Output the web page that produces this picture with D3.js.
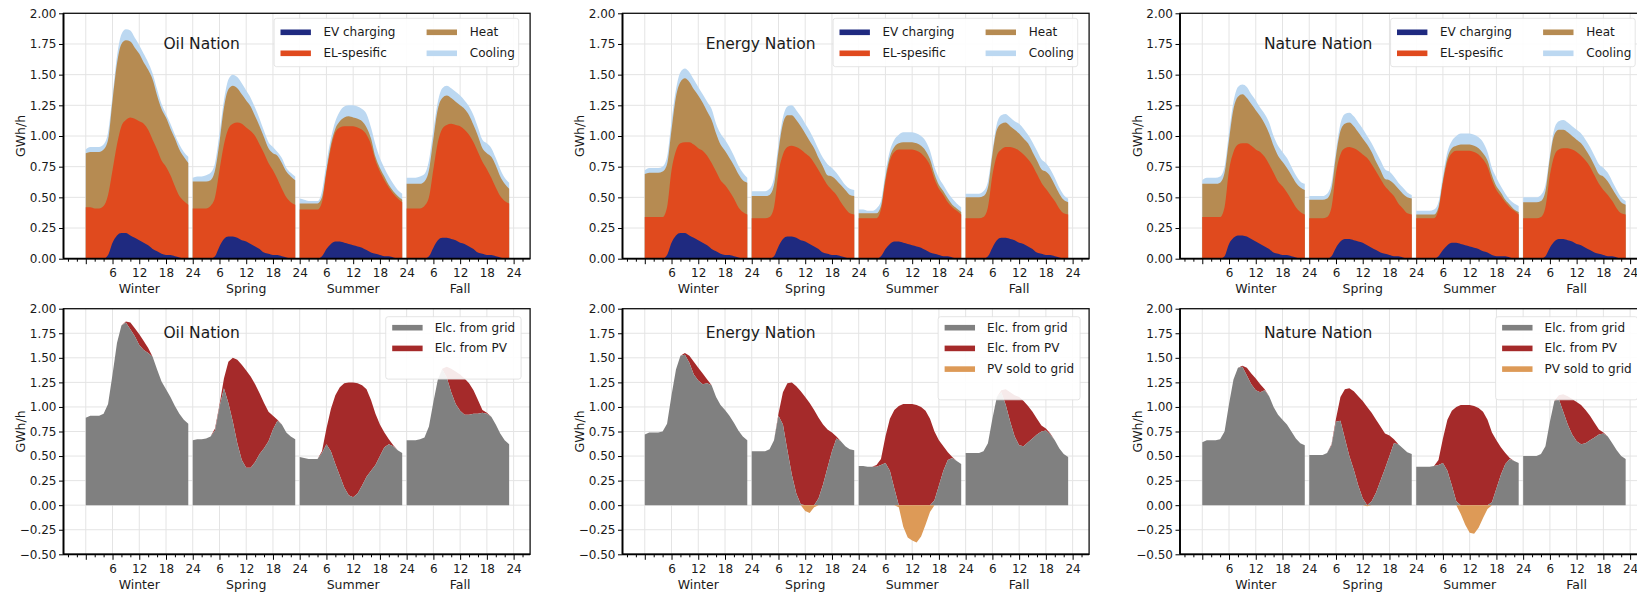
<!DOCTYPE html>
<html><head><meta charset="utf-8">
<script src="https://cdn.jsdelivr.net/npm/d3@7"></script>
<style>
body{margin:0;background:#fff;}
svg{display:block;font-family:"DejaVu Sans",sans-serif;}
</style></head><body>
<svg id="chart" width="1637" height="595"></svg>
<script>
const nations = ["Oil Nation", "Energy Nation", "Nature Nation"];
const seasons = ["Winter", "Spring", "Summer", "Fall"];
const hours = [0,1,2,3,4,5,6,7,8,9,10,11,12,13,14,15,16,17,18,19,20,21,22,23];
const xTickLabels = ["6", "12", "18", "24"];
const yTicksTop = [0, 0.25, 0.5, 0.75, 1, 1.25, 1.5, 1.75, 2];
const yTicksBottom = [-0.5, -0.25, 0, 0.25, 0.5, 0.75, 1, 1.25, 1.5, 1.75, 2];
const topSeries = ["EV charging", "EL-spesific", "Heat", "Cooling"];
const bottomSeriesOil = ["Elc. from grid", "Elc. from PV"];
const bottomSeriesPV = ["Elc. from grid", "Elc. from PV", "PV sold to grid"];

// ---- Oil Nation (GWh/h), one row per season: Winter, Spring, Summer, Fall ----
const oilEV = [
 [0,0,0,0,0,0.03,0.13,0.19,0.21,0.21,0.19,0.17,0.15,0.13,0.11,0.08,0.06,0.04,0.03,0.03,0.02,0.01,0,0],
 [0,0,0,0,0,0.02,0.10,0.16,0.18,0.18,0.17,0.15,0.14,0.12,0.10,0.08,0.05,0.04,0.03,0.03,0.02,0.01,0,0],
 [0,0,0,0,0,0.02,0.08,0.12,0.14,0.14,0.13,0.12,0.11,0.10,0.09,0.07,0.05,0.04,0.03,0.02,0.02,0.01,0,0],
 [0,0,0,0,0,0.02,0.09,0.15,0.17,0.17,0.16,0.15,0.13,0.12,0.10,0.08,0.05,0.04,0.03,0.03,0.02,0.01,0,0]
];
const oilEL = [
 [0.42,0.42,0.41,0.41,0.43,0.49,0.59,0.74,0.87,0.92,0.96,0.97,0.97,0.97,0.94,0.89,0.83,0.76,0.72,0.65,0.57,0.50,0.47,0.44],
 [0.41,0.41,0.41,0.41,0.43,0.48,0.62,0.77,0.88,0.92,0.94,0.95,0.93,0.92,0.90,0.85,0.81,0.74,0.69,0.62,0.55,0.49,0.46,0.44],
 [0.40,0.40,0.40,0.40,0.40,0.44,0.62,0.78,0.89,0.93,0.95,0.96,0.97,0.97,0.96,0.94,0.88,0.76,0.68,0.62,0.56,0.52,0.49,0.46],
 [0.41,0.41,0.41,0.41,0.43,0.48,0.64,0.80,0.89,0.92,0.94,0.94,0.95,0.93,0.91,0.87,0.82,0.75,0.70,0.63,0.56,0.50,0.47,0.45]
];
const oilHeat = [
 [0.44,0.45,0.46,0.46,0.46,0.45,0.57,0.66,0.67,0.65,0.62,0.58,0.55,0.50,0.49,0.49,0.44,0.42,0.40,0.38,0.39,0.38,0.36,0.34],
 [0.22,0.22,0.22,0.22,0.21,0.22,0.23,0.30,0.32,0.31,0.28,0.24,0.22,0.20,0.16,0.15,0.13,0.12,0.14,0.19,0.21,0.21,0.21,0.20],
 [0.05,0.05,0.05,0.05,0.05,0.04,0.02,0.03,0.03,0.05,0.07,0.08,0.07,0.07,0.07,0.06,0.05,0.03,0.03,0.03,0.02,0.02,0.02,0.02],
 [0.20,0.20,0.20,0.20,0.20,0.22,0.25,0.27,0.25,0.24,0.21,0.19,0.17,0.17,0.16,0.14,0.13,0.11,0.13,0.17,0.18,0.16,0.14,0.12]
];
const oilCool = [
 [0.03,0.04,0.04,0.04,0.04,0.06,0.04,0.06,0.08,0.09,0.09,0.08,0.07,0.07,0.06,0.05,0.05,0.04,0.03,0.04,0.03,0.04,0.04,0.05],
 [0.03,0.04,0.04,0.05,0.06,0.06,0.07,0.06,0.08,0.09,0.09,0.09,0.08,0.07,0.07,0.06,0.05,0.05,0.05,0.03,0.04,0.03,0.03,0.03],
 [0.04,0.03,0.02,0.02,0.02,0.05,0.06,0.05,0.06,0.08,0.09,0.09,0.10,0.10,0.10,0.11,0.09,0.10,0.08,0.07,0.07,0.06,0.05,0.05],
 [0.05,0.05,0.05,0.06,0.06,0.08,0.07,0.06,0.08,0.08,0.08,0.08,0.08,0.07,0.07,0.08,0.07,0.07,0.08,0.07,0.06,0.06,0.05,0.05]
];
const oilGrid = [
 [0.89,0.91,0.91,0.91,0.93,1.03,1.33,1.65,1.83,1.86,1.79,1.72,1.63,1.58,1.55,1.51,1.38,1.26,1.18,1.10,1.01,0.93,0.87,0.83],
 [0.66,0.67,0.67,0.68,0.70,0.76,1.00,1.19,1.04,0.85,0.63,0.46,0.38,0.38,0.44,0.52,0.58,0.65,0.77,0.86,0.82,0.74,0.70,0.67],
 [0.49,0.48,0.47,0.47,0.47,0.53,0.62,0.55,0.42,0.30,0.18,0.10,0.08,0.12,0.20,0.29,0.35,0.41,0.50,0.59,0.62,0.60,0.56,0.53],
 [0.66,0.66,0.66,0.67,0.69,0.80,1.05,1.28,1.38,1.30,1.15,1.03,0.96,0.92,0.92,0.93,0.93,0.94,0.93,0.90,0.82,0.73,0.66,0.62]
];

// ---- Energy Nation ----
const energyEV = [
 [0,0,0,0,0,0.03,0.13,0.19,0.21,0.21,0.19,0.17,0.15,0.13,0.11,0.08,0.06,0.04,0.03,0.03,0.02,0.01,0,0],
 [0,0,0,0,0,0.02,0.10,0.16,0.18,0.18,0.17,0.15,0.14,0.12,0.10,0.08,0.05,0.04,0.03,0.03,0.02,0.01,0,0],
 [0,0,0,0,0,0.02,0.08,0.12,0.14,0.14,0.13,0.12,0.11,0.10,0.09,0.07,0.05,0.04,0.03,0.02,0.02,0.01,0,0],
 [0,0,0,0,0,0.02,0.09,0.15,0.17,0.17,0.16,0.15,0.13,0.12,0.10,0.08,0.05,0.04,0.03,0.03,0.02,0.01,0,0]
];
const energyEL = [
 [0.34,0.34,0.34,0.34,0.34,0.39,0.59,0.69,0.73,0.74,0.76,0.76,0.75,0.75,0.73,0.70,0.65,0.60,0.57,0.52,0.47,0.41,0.38,0.36],
 [0.33,0.33,0.33,0.33,0.34,0.40,0.60,0.69,0.73,0.74,0.74,0.74,0.72,0.71,0.68,0.64,0.61,0.56,0.53,0.49,0.44,0.40,0.37,0.36],
 [0.33,0.33,0.33,0.33,0.33,0.38,0.55,0.68,0.73,0.75,0.76,0.77,0.78,0.78,0.77,0.75,0.71,0.61,0.54,0.50,0.44,0.41,0.39,0.36],
 [0.33,0.33,0.33,0.33,0.34,0.40,0.59,0.69,0.72,0.74,0.75,0.75,0.75,0.73,0.71,0.68,0.64,0.58,0.54,0.49,0.45,0.40,0.37,0.36]
];
const energyHeat = [
 [0.35,0.36,0.36,0.36,0.37,0.35,0.33,0.44,0.50,0.52,0.49,0.45,0.43,0.39,0.36,0.35,0.31,0.29,0.28,0.27,0.27,0.27,0.26,0.26],
 [0.18,0.18,0.18,0.18,0.18,0.18,0.18,0.25,0.26,0.25,0.22,0.19,0.16,0.13,0.12,0.10,0.09,0.08,0.11,0.12,0.14,0.15,0.15,0.15],
 [0.04,0.04,0.04,0.04,0.04,0.03,0.03,0.03,0.04,0.05,0.06,0.06,0.06,0.06,0.06,0.06,0.05,0.04,0.03,0.03,0.03,0.02,0.02,0.02],
 [0.17,0.17,0.17,0.17,0.17,0.16,0.17,0.21,0.21,0.20,0.17,0.15,0.14,0.13,0.13,0.11,0.11,0.11,0.14,0.15,0.13,0.12,0.11,0.10]
];
const energyCool = [
 [0.03,0.04,0.04,0.04,0.04,0.06,0.07,0.06,0.08,0.08,0.08,0.08,0.07,0.07,0.08,0.09,0.08,0.09,0.09,0.09,0.08,0.07,0.06,0.04],
 [0.04,0.04,0.04,0.04,0.05,0.06,0.05,0.05,0.07,0.08,0.08,0.08,0.08,0.08,0.07,0.07,0.07,0.09,0.07,0.06,0.05,0.04,0.05,0.05],
 [0.03,0.03,0.02,0.02,0.04,0.04,0.04,0.05,0.06,0.07,0.08,0.08,0.08,0.08,0.08,0.08,0.07,0.06,0.06,0.05,0.05,0.05,0.04,0.04],
 [0.03,0.03,0.03,0.03,0.04,0.05,0.03,0.05,0.07,0.07,0.07,0.07,0.08,0.08,0.07,0.08,0.08,0.08,0.07,0.06,0.06,0.05,0.04,0.03]
];
const energyGrid = [
 [0.72,0.74,0.74,0.74,0.75,0.83,1.12,1.38,1.52,1.53,1.45,1.33,1.27,1.23,1.24,1.22,1.10,1.02,0.97,0.91,0.84,0.76,0.70,0.66],
 [0.55,0.55,0.55,0.55,0.57,0.66,0.91,0.82,0.56,0.31,0.12,0.01,-0.06,-0.08,-0.02,0.07,0.21,0.38,0.55,0.68,0.65,0.60,0.57,0.56],
 [0.40,0.40,0.39,0.39,0.39,0.41,0.43,0.35,0.17,-0.02,-0.22,-0.33,-0.36,-0.38,-0.32,-0.20,-0.07,0.05,0.20,0.35,0.46,0.48,0.45,0.42],
 [0.53,0.53,0.53,0.53,0.55,0.63,0.88,1.10,1.15,1.02,0.85,0.70,0.61,0.60,0.64,0.68,0.72,0.75,0.76,0.72,0.66,0.58,0.52,0.49]
];

// ---- Nature Nation ----
const natureEV = [
 [0,0,0,0,0,0.02,0.12,0.17,0.19,0.19,0.18,0.16,0.14,0.12,0.10,0.08,0.05,0.04,0.03,0.03,0.02,0.01,0,0],
 [0,0,0,0,0,0.02,0.09,0.14,0.16,0.16,0.15,0.14,0.13,0.11,0.09,0.07,0.05,0.04,0.03,0.02,0.02,0.01,0,0],
 [0,0,0,0,0,0.02,0.07,0.11,0.13,0.13,0.12,0.11,0.10,0.09,0.08,0.06,0.05,0.03,0.02,0.02,0.02,0.01,0,0],
 [0,0,0,0,0,0.02,0.09,0.14,0.16,0.16,0.15,0.14,0.12,0.11,0.09,0.07,0.05,0.04,0.03,0.02,0.02,0.01,0,0]
];
const natureEL = [
 [0.34,0.34,0.34,0.34,0.34,0.40,0.60,0.70,0.74,0.75,0.76,0.76,0.75,0.75,0.73,0.69,0.65,0.59,0.56,0.51,0.46,0.41,0.38,0.36],
 [0.33,0.33,0.33,0.33,0.34,0.40,0.61,0.71,0.74,0.75,0.75,0.74,0.72,0.71,0.68,0.64,0.60,0.55,0.52,0.49,0.43,0.40,0.37,0.36],
 [0.33,0.33,0.33,0.33,0.33,0.38,0.55,0.68,0.73,0.75,0.76,0.77,0.78,0.78,0.77,0.75,0.70,0.61,0.54,0.49,0.44,0.41,0.39,0.36],
 [0.33,0.33,0.33,0.33,0.34,0.40,0.59,0.70,0.73,0.74,0.75,0.75,0.75,0.73,0.71,0.68,0.63,0.57,0.53,0.50,0.45,0.40,0.37,0.36]
];
const natureHeat = [
 [0.27,0.27,0.27,0.27,0.28,0.28,0.25,0.35,0.39,0.40,0.37,0.34,0.32,0.29,0.27,0.25,0.22,0.21,0.20,0.20,0.20,0.20,0.20,0.20],
 [0.15,0.15,0.15,0.15,0.15,0.15,0.14,0.19,0.20,0.20,0.18,0.15,0.13,0.11,0.10,0.08,0.07,0.06,0.09,0.10,0.12,0.12,0.13,0.13],
 [0.03,0.03,0.03,0.03,0.03,0.02,0.02,0.03,0.04,0.04,0.05,0.05,0.05,0.05,0.05,0.05,0.05,0.04,0.03,0.03,0.02,0.02,0.01,0.02],
 [0.13,0.13,0.13,0.13,0.13,0.13,0.14,0.17,0.16,0.15,0.13,0.11,0.10,0.10,0.09,0.08,0.08,0.08,0.11,0.11,0.10,0.10,0.09,0.08]
];
const natureCool = [
 [0.03,0.05,0.05,0.05,0.05,0.05,0.06,0.06,0.08,0.08,0.09,0.08,0.08,0.07,0.08,0.09,0.08,0.08,0.08,0.08,0.07,0.06,0.05,0.05],
 [0.03,0.03,0.03,0.03,0.04,0.05,0.04,0.06,0.08,0.08,0.08,0.08,0.08,0.07,0.07,0.08,0.08,0.08,0.07,0.06,0.05,0.05,0.04,0.03],
 [0.03,0.03,0.03,0.03,0.04,0.04,0.04,0.05,0.06,0.08,0.09,0.09,0.09,0.09,0.09,0.09,0.07,0.06,0.07,0.05,0.05,0.04,0.05,0.05],
 [0.04,0.04,0.04,0.04,0.05,0.05,0.03,0.05,0.07,0.08,0.08,0.08,0.08,0.08,0.08,0.08,0.08,0.08,0.07,0.07,0.06,0.05,0.04,0.03]
];
const natureGrid = [
 [0.64,0.66,0.66,0.66,0.67,0.75,1.03,1.28,1.40,1.41,1.32,1.23,1.17,1.15,1.17,1.11,1.00,0.92,0.87,0.82,0.75,0.68,0.63,0.61],
 [0.51,0.51,0.51,0.51,0.53,0.61,0.85,0.86,0.68,0.50,0.36,0.20,0.07,-0.01,0.04,0.13,0.25,0.37,0.50,0.63,0.62,0.58,0.54,0.52],
 [0.39,0.39,0.39,0.39,0.40,0.41,0.43,0.35,0.20,0.04,-0.09,-0.20,-0.28,-0.29,-0.23,-0.13,-0.04,0.03,0.17,0.31,0.42,0.47,0.45,0.43],
 [0.50,0.50,0.50,0.50,0.52,0.60,0.85,1.06,1.08,0.95,0.82,0.72,0.65,0.62,0.63,0.66,0.69,0.72,0.73,0.70,0.63,0.56,0.50,0.47]
];

const nationData = [
  {ev: oilEV, el: oilEL, heat: oilHeat, cool: oilCool, grid: oilGrid, legend: bottomSeriesOil},
  {ev: energyEV, el: energyEL, heat: energyHeat, cool: energyCool, grid: energyGrid, legend: bottomSeriesPV},
  {ev: natureEV, el: natureEL, heat: natureHeat, cool: natureCool, grid: natureGrid, legend: bottomSeriesPV}
];

// ---- styling / layout ----
const topColors = ["#1f2a80", "#e04a1e", "#b68b52", "#bcd8f1"];
const botColors = ["#808080", "#a52a2a", "#dd9a57"];
const colLeft = [63.5, 622.5, 1180];
const plotW = 466.6;
const rowsCfg = [
  {top: 13.3, bottom: 258.7, dom: [0, 2], ticks: yTicksTop},
  {top: 308.7, bottom: 554.3, dom: [-0.5, 2], ticks: yTicksBottom}
];
const gridColor = "#e4e4e4";
const textColor = "#1a1a1a";

const svg = d3.select("#chart");
const majorX = d3.range(0, 97, 6);
const minorX = d3.range(-4, 99, 2).filter(v => v % 6 !== 0);

nations.forEach((name, c) => {
  const left = colLeft[c], right = left + plotW;
  const x = d3.scaleLinear().domain([-5, 99.7]).range([left, right]);
  const nd = nationData[c];

  rowsCfg.forEach((rc, r) => {
    const y = d3.scaleLinear().domain(rc.dom).range([rc.bottom, rc.top]);
    const g = svg.append("g");

    // grid
    g.selectAll("line.hg").data(rc.ticks).join("line").attr("class", "hg")
      .attr("x1", left).attr("x2", right).attr("y1", d => y(d)).attr("y2", d => y(d))
      .attr("stroke", gridColor).attr("stroke-width", 1);
    g.selectAll("line.vg").data(majorX).join("line").attr("class", "vg")
      .attr("x1", d => x(d)).attr("x2", d => x(d)).attr("y1", rc.top).attr("y2", rc.bottom)
      .attr("stroke", gridColor).attr("stroke-width", 1);

    const areaG = g.append("g");
    seasons.forEach((sn, s) => {
      const xs = h => x(24 * s + h);
      if (r === 0) {
        const rows = hours.map(h => ({h, ev: nd.ev[s][h], el: nd.el[s][h], heat: nd.heat[s][h], cool: nd.cool[s][h]}));
        const stacked = d3.stack().keys(["ev", "el", "heat", "cool"])(rows);
        const area = d3.area().x(d => xs(d.data.h)).y0(y(0)).y1(d => y(d[1])).curve(d3.curveMonotoneX);
        for (let i = stacked.length - 1; i >= 0; i--) {
          areaG.append("path").attr("d", area(stacked[i])).attr("fill", topColors[i]);
        }
      } else {
        const rows = hours.map(h => ({
          h,
          total: nd.ev[s][h] + nd.el[s][h] + nd.heat[s][h] + nd.cool[s][h],
          grid: nd.grid[s][h]
        }));
        const red = d3.area().x(d => xs(d.h)).y0(d => y(Math.max(d.grid, 0))).y1(d => y(d.total));
        const gray = d3.area().x(d => xs(d.h)).y0(y(0)).y1(d => y(Math.max(d.grid, 0)));
        const orange = d3.area().x(d => xs(d.h)).y0(d => y(Math.min(d.grid, 0))).y1(y(0));
        areaG.append("path").attr("d", red(rows)).attr("fill", botColors[1]);
        areaG.append("path").attr("d", gray(rows)).attr("fill", botColors[0]);
        if (rows.some(d => d.grid < 0)) areaG.append("path").attr("d", orange(rows)).attr("fill", botColors[2]);
      }
    });

    // y axis
    const ya = g.append("g").attr("transform", `translate(${left},0)`)
      .call(d3.axisLeft(y).tickValues(rc.ticks).tickFormat(d3.format(".2f")).tickSize(4.5).tickPadding(2.5));
    ya.select(".domain").remove();
    ya.attr("font-family", "DejaVu Sans").attr("font-size", 12);
    ya.selectAll("text").attr("fill", textColor);
    ya.selectAll("line").attr("stroke", "#000");

    // x axis major + minor
    const xa = g.append("g").attr("transform", `translate(0,${rc.bottom})`)
      .call(d3.axisBottom(x).tickValues(majorX)
        .tickFormat(d => d === 0 ? "" : xTickLabels[(d / 6 - 1) % 4])
        .tickSize(5.5).tickPadding(4.5));
    xa.select(".domain").remove();
    xa.attr("font-family", "DejaVu Sans").attr("font-size", 12);
    xa.selectAll("text").attr("fill", textColor);
    xa.selectAll("line").attr("stroke", "#000");
    const xm = g.append("g").attr("transform", `translate(0,${rc.bottom})`)
      .call(d3.axisBottom(x).tickValues(minorX).tickFormat("").tickSize(3));
    xm.select(".domain").remove();
    xm.selectAll("line").attr("stroke", "#000");

    // season labels
    g.selectAll("text.season").data(seasons).join("text").attr("class", "season")
      .attr("x", (d, i) => x(24 * i + 12)).attr("y", rc.bottom + 34.5)
      .attr("text-anchor", "middle").attr("font-size", 12.5).attr("fill", textColor)
      .text(d => d);

    // spines
    g.append("rect").attr("x", left).attr("y", rc.top).attr("width", plotW).attr("height", rc.bottom - rc.top)
      .attr("fill", "none").attr("stroke", "#111").attr("stroke-width", 1.3);
    g.append("line").attr("x1", left).attr("x2", left).attr("y1", rc.top).attr("y2", rc.bottom)
      .attr("stroke", "#000").attr("stroke-width", 1.8);
    g.append("line").attr("x1", left).attr("x2", right).attr("y1", rc.bottom).attr("y2", rc.bottom)
      .attr("stroke", "#000").attr("stroke-width", 1.8);

    // y label
    g.append("text").attr("transform", `translate(${left - 43},${(rc.top + rc.bottom) / 2}) rotate(-90)`)
      .attr("text-anchor", "middle").attr("dominant-baseline", "central")
      .attr("font-size", 12.5).attr("fill", textColor).text("GWh/h");

    // title
    g.append("text").attr("x", x(26)).attr("y", y(1.75)).attr("text-anchor", "middle")
      .attr("dominant-baseline", "central").attr("font-size", 15.5).attr("fill", textColor).text(name);

    // legend
    const lg = g.append("g");
    if (r === 0) {
      lg.append("rect").attr("x", right - 256).attr("y", rc.top + 5).attr("width", 244.6).attr("height", 48.4)
        .attr("rx", 2.5).attr("fill", "#fff").attr("fill-opacity", 0.9).attr("stroke", "#dedede").attr("stroke-width", 0.8);
      topSeries.forEach((sName, i) => {
        const col = Math.floor(i / 2), row = i % 2;
        const sx = right + (col === 0 ? -249.6 : -103.5);
        const tx = right + (col === 0 ? -206.7 : -60.3);
        const cy = rc.top + 19 + row * 21;
        lg.append("rect").attr("x", sx).attr("y", cy - 2.8).attr("width", 30.4).attr("height", 5.6).attr("fill", topColors[i]);
        lg.append("text").attr("x", tx).attr("y", cy).attr("dominant-baseline", "central")
          .attr("font-size", 12).attr("fill", textColor).text(sName);
      });
    } else {
      const items = nd.legend;
      const boxRect = lg.append("rect");
      const texts = items.map((sName, i) => lg.append("text").attr("y", rc.top + 19 + i * 20.7)
        .attr("dominant-baseline", "central").attr("font-size", 12).attr("fill", textColor).text(sName));
      const maxW = d3.max(texts, t => t.node().getComputedTextLength());
      const tx = right - 15 - maxW;
      const sx = tx - 42.5;
      texts.forEach(t => t.attr("x", tx));
      items.forEach((sName, i) => {
        lg.append("rect").attr("x", sx).attr("y", rc.top + 19 + i * 20.7 - 2.8).attr("width", 30.4).attr("height", 5.6)
          .attr("fill", botColors[i]);
      });
      boxRect.attr("x", sx - 6.5).attr("y", rc.top + 8).attr("width", right - 9 - (sx - 6.5))
        .attr("height", 23 + items.length * 20.7 - 2).attr("rx", 2.5)
        .attr("fill", "#fff").attr("fill-opacity", 0.9).attr("stroke", "#dedede").attr("stroke-width", 0.8);
    }
  });
});
</script>
</body></html>
